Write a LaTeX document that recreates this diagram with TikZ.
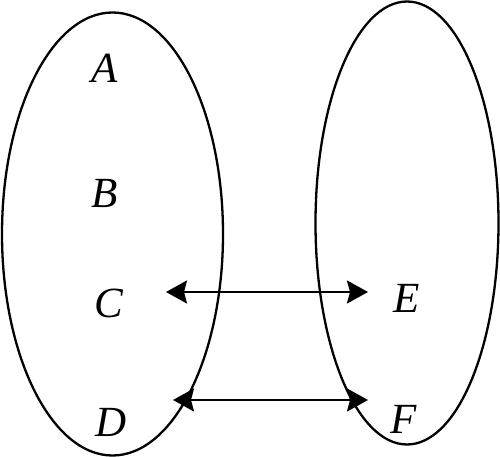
\documentclass[tikz,border=0pt]{standalone}
\usepackage{fontspec}
\setmainfont{Liberation Serif}
\usetikzlibrary{arrows.meta}
\begin{document}
\begin{tikzpicture}[x=1pt,y=-1pt,
  setline/.style={line width=2.3pt},
  lbl/.style={font=\fontsize{43}{50}\selectfont\itshape, inner sep=0pt},
  biarrow/.style={line width=2.3pt, {Stealth[length=21pt,width=23pt,inset=3pt]}-{Stealth[length=21pt,width=23pt,inset=3pt]}}]
\useasboundingbox (0,0) rectangle (500,457);
\draw[setline] (112.5,234) ellipse [x radius=110.5, y radius=221.5];
\draw[setline] (407,223) ellipse [x radius=91.5, y radius=221.5];
\node[lbl] (A) at (104.5,68.5) {A};
\node[lbl] (B) at (104.5,193) {B};
\node[lbl] (C) at (109,303.5) {C};
\node[lbl] (D) at (111,422) {D};
\node[lbl] (E) at (407,298.5) {E};
\node[lbl] (F) at (404,419) {F};
\coordinate (c1) at (166,292);
\coordinate (e1) at (368,292);
\coordinate (d1) at (173,400);
\coordinate (f1) at (368,400);
\draw[biarrow] (c1) -- (e1);
\draw[biarrow] (d1) -- (f1);
\end{tikzpicture}
\end{document}
